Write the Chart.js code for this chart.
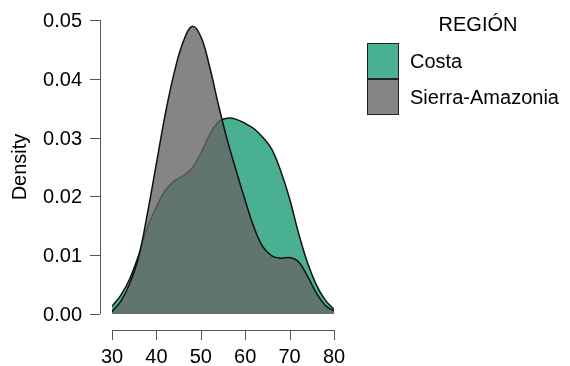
<!DOCTYPE html>
<html>
<head>
<meta charset="utf-8">
<script src="https://cdn.jsdelivr.net/npm/chart.js@4"></script>
<style>
  html, body { margin: 0; padding: 0; background: #fff; }
  canvas { display: block; }
</style>
</head>
<body>
<canvas id="chart" width="570" height="366"></canvas>
<script>
// Data
const edad = [30, 32, 34, 36, 38, 40, 42, 44, 46, 48, 50, 52, 54, 56, 58, 60, 62, 64, 66, 68, 70, 72, 74, 76, 78, 80];
const costa = [0.0013, 0.0032, 0.0060, 0.0100, 0.0148, 0.0182, 0.0210, 0.0226, 0.0235, 0.0248, 0.0273, 0.0305, 0.0327,
               0.0333, 0.0331, 0.0324, 0.0315, 0.0300, 0.0280, 0.0243, 0.0196, 0.0138, 0.0088, 0.0050, 0.0024, 0.0008];
const sierraAmazonia = [0.0004, 0.0022, 0.0052, 0.0097, 0.0172, 0.0256, 0.0340, 0.0410, 0.0462, 0.0489, 0.0472, 0.0420, 0.0355,
                        0.0295, 0.0243, 0.0193, 0.0147, 0.0114, 0.0099, 0.0095, 0.0096, 0.0089, 0.0065, 0.0036, 0.0015, 0.0005];
const seriesNames = ['Costa', 'Sierra-Amazonia'];
const xTicks = [30, 40, 50, 60, 70, 80];
const yTicks = [0.00, 0.01, 0.02, 0.03, 0.04, 0.05];
const legendTitle = 'REGIÓN';
const yTitle = 'Density';

const FONT = '20px "Liberation Sans", Arial, sans-serif';

const toPoints = (vals) => edad.map((x, i) => ({ x, y: vals[i] }));

// R-style axes, drawn off the plot region
const rAxes = {
    id: 'rAxes',
    afterDraw(chart) {
        const ctx = chart.ctx;
        const xs = chart.scales.x;
        const ys = chart.scales.y;
        const axisY = chart.chartArea.bottom + 16;
        const axisX = chart.chartArea.left - 12;

        ctx.save();
        ctx.strokeStyle = '#555';
        ctx.lineWidth = 1;
        ctx.fillStyle = '#000';
        ctx.font = FONT;

        // x axis
        ctx.beginPath();
        ctx.moveTo(xs.getPixelForValue(xTicks[0]), axisY + 0.5);
        ctx.lineTo(xs.getPixelForValue(xTicks[xTicks.length - 1]), axisY + 0.5);
        xTicks.forEach(t => {
            const px = Math.round(xs.getPixelForValue(t)) + 0.5;
            ctx.moveTo(px, axisY);
            ctx.lineTo(px, axisY + 10);
        });
        ctx.stroke();
        ctx.textAlign = 'center';
        ctx.textBaseline = 'alphabetic';
        xTicks.forEach(t => ctx.fillText(String(t), xs.getPixelForValue(t), 363));

        // y axis
        ctx.beginPath();
        ctx.moveTo(axisX + 0.5, ys.getPixelForValue(yTicks[0]));
        ctx.lineTo(axisX + 0.5, ys.getPixelForValue(yTicks[yTicks.length - 1]));
        yTicks.forEach(t => {
            const py = Math.round(ys.getPixelForValue(t)) + 0.5;
            ctx.moveTo(axisX, py);
            ctx.lineTo(axisX - 10, py);
        });
        ctx.stroke();
        ctx.textAlign = 'right';
        yTicks.forEach(t => ctx.fillText(t.toFixed(2), 82, ys.getPixelForValue(t) + 7));

        // y title
        ctx.save();
        ctx.translate(20, 167);
        ctx.rotate(-Math.PI / 2);
        ctx.textAlign = 'center';
        ctx.textBaseline = 'middle';
        ctx.fillText(yTitle, 0, 0);
        ctx.restore();

        ctx.restore();
    }
};

// legend with boxes stacked like ggplot's fill guide
const boxLegend = {
    id: 'boxLegend',
    afterDraw(chart) {
        const ctx = chart.ctx;
        ctx.save();
        ctx.font = FONT;
        ctx.fillStyle = '#000';
        ctx.textAlign = 'center';
        ctx.textBaseline = 'alphabetic';
        ctx.fillText(legendTitle, 478, 31);

        chart.data.datasets.forEach((ds, i) => {
            const top = 43 + i * 36;
            ctx.fillStyle = '#fff';
            ctx.fillRect(367, top, 32, 36);
            ctx.fillStyle = ds.backgroundColor;
            ctx.fillRect(367, top, 32, 36);
            ctx.strokeStyle = '#222';
            ctx.lineWidth = 1;
            ctx.strokeRect(367.5, top + 0.5, 31, 35);
            ctx.fillStyle = '#000';
            ctx.textAlign = 'left';
            ctx.fillText(ds.label, 410, top + 25);
        });
        ctx.restore();
    }
};

new Chart(document.getElementById('chart'), {
    type: 'line',
    data: {
        datasets: [
            {
                label: seriesNames[0],
                data: toPoints(costa),
                backgroundColor: 'rgba(27, 158, 119, 0.8)',
                borderColor: '#111',
                borderWidth: 1.5,
                fill: 'origin',
                order: 1
            },
            {
                label: seriesNames[1],
                data: toPoints(sierraAmazonia),
                backgroundColor: 'rgba(102, 102, 102, 0.8)',
                borderColor: '#111',
                borderWidth: 1.5,
                fill: 'origin',
                order: 0
            }
        ]
    },
    options: {
        responsive: false,
        animation: false,
        layout: { padding: { left: 112, right: 236, top: 20, bottom: 52 } },
        elements: {
            point: { radius: 0 },
            line: { tension: 0.4 }
        },
        scales: {
            x: { type: 'linear', min: 30, max: 80, display: false },
            y: { min: 0, max: 0.05, display: false }
        },
        plugins: {
            legend: { display: false },
            tooltip: { enabled: false }
        }
    },
    plugins: [rAxes, boxLegend]
});
</script>
</body>
</html>
